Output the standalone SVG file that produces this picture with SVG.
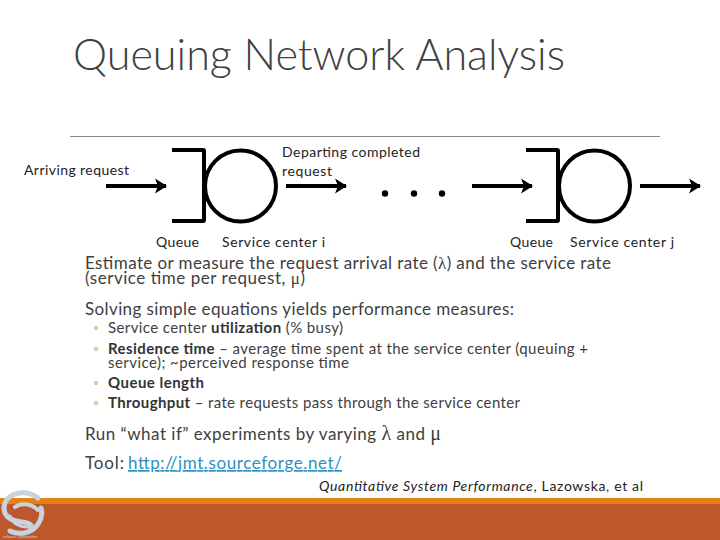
<svg xmlns="http://www.w3.org/2000/svg" width="720" height="540" viewBox="0 0 720 540">
<defs>
<style>
text{font-family:Lato,"Noto Sans",sans-serif;fill:#404040}
.t{font-size:44px;font-weight:300;fill:#404040}
.d{font-size:14px;fill:#222}
.b{font-size:17px}
.s{font-size:15px}
.bd{font-weight:700;fill:#333}
.g{font-family:"Liberation Serif",serif}
.w{fill:none;stroke:#000;stroke-width:4;stroke-linejoin:round}
.a{stroke:#000;stroke-width:4;marker-end:url(#ah)}
.bul{fill:none;stroke:#d9a040;stroke-width:1}
</style>
<marker id="ah" markerUnits="userSpaceOnUse" markerWidth="16" markerHeight="16" refX="14" refY="8" orient="auto"><path d="M3 0.500L15 8L3 15.500L6 8Z" fill="#000"/></marker>
</defs>
<rect width="720" height="540" fill="#fff"/>
<text class="t" x="73" y="70" textLength="492" lengthAdjust="spacingAndGlyphs">Queuing Network Analysis</text>
<line x1="70" y1="136.500" x2="660" y2="136.500" stroke="#8a8a8a" stroke-width="1"/>
<g id="connectors">
<line class="a" x1="106" y1="186" x2="166" y2="186"/>
<line class="a" x1="286" y1="186" x2="346" y2="186"/>
<line class="a" x1="472" y1="186" x2="532" y2="186"/>
<line class="a" x1="640" y1="186" x2="700" y2="186"/>
</g>
<g id="center-i">
<path class="w" d="M172 150H203Q204 150 204 151V220Q204 221 203 221H172"/>
<circle class="w" cx="240.500" cy="186" r="35.500"/>
<text class="d" x="156" y="247" textLength="43">Queue</text>
<text class="d" x="222" y="247" textLength="103">Service center  i</text>
</g>
<g id="center-j">
<path class="w" d="M526 150H557Q558 150 558 151V220Q558 221 557 221H526"/>
<circle class="w" cx="594.500" cy="186" r="35.500"/>
<text class="d" x="510" y="247" textLength="43">Queue</text>
<text class="d" x="570" y="247" textLength="104">Service center  j</text>
</g>
<g id="labels">
<text class="d" x="24" y="175" textLength="105">Arriving request</text>
<text class="d" x="282" y="157" textLength="138">Departing completed</text>
<text class="d" x="282" y="176" textLength="50">request</text>
<circle cx="385" cy="193.500" r="3.200" fill="#000"/>
<circle cx="414" cy="193.500" r="3.200" fill="#000"/>
<circle cx="442" cy="193.500" r="3.200" fill="#000"/>
</g>
<g id="body">
<text class="b" x="85" y="269" textLength="526">Estimate or measure the request arrival rate (<tspan class="g">λ</tspan>) and the service rate</text>
<text class="b" x="85" y="284" textLength="220">(service time per request,  <tspan class="g">μ</tspan>)</text>
<text class="b" x="85" y="315" textLength="429">Solving simple equations yields performance measures:</text>
<circle class="bul" cx="96" cy="328" r="1.500"/>
<text class="s" x="108" y="333" textLength="235">Service center <tspan class="bd">utilization</tspan> (% busy)</text>
<circle class="bul" cx="96" cy="349" r="1.500"/>
<text class="s" x="108" y="354" textLength="480"><tspan class="bd">Residence time</tspan> – average time spent at the service center (queuing +</text>
<text class="s" x="108" y="368" textLength="241">service); ~perceived response time</text>
<circle class="bul" cx="96" cy="383" r="1.500"/>
<text class="s bd" x="108" y="388" textLength="96">Queue length</text>
<circle class="bul" cx="96" cy="403" r="1.500"/>
<text class="s" x="108" y="408" textLength="412"><tspan class="bd">Throughput</tspan> – rate requests pass through the service center</text>
<text class="b" x="85" y="440" textLength="356">Run “what if” experiments by varying <tspan class="g" font-size="20">λ</tspan> and <tspan class="g" font-size="20">μ</tspan></text>
<text class="b" x="85" y="469" textLength="39">Tool:</text>
<text class="b" x="128" y="469" textLength="214" style="fill:#2f8fbf" text-decoration="underline">http://jmt.sourceforge.net/</text>
<text class="d" x="319" y="491" textLength="324"><tspan font-style="italic">Quantitative System Performance</tspan>, Lazowska, et al</text>
</g>
<g id="footer">
<rect x="0" y="498" width="720" height="6" fill="#e48312"/>
<rect x="0" y="504" width="720" height="36" fill="#bd582c"/>
<g fill="none" stroke="#c9d2de" stroke-linecap="round">
<path stroke-width="5" d="M38 498C28 490 10 491 5 503C1 515 10 521 22 522C30 523 33 525 31 529"/>
<path stroke-width="5" d="M41 508C44 518 37 531 24 533C18 534 14 533 10 531"/>
<path stroke-width="4" d="M15 507C22 502 32 504 38 510"/>
<path stroke-width="3" d="M10 516C13 524 20 527 28 527"/>
</g>
<text x="3" y="538" font-size="3.500" style="fill:#c9d2de">software Optimization</text>
</g>
</svg>
